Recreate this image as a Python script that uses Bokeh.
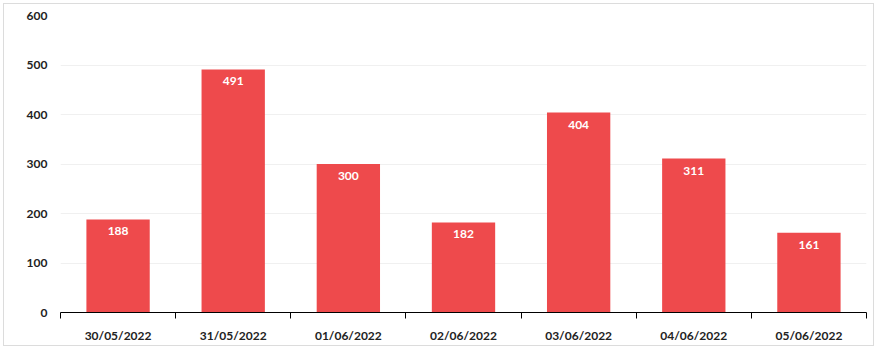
from bokeh.plotting import figure
from bokeh.models import Range1d, FixedTicker, ColumnDataSource, LabelSet
from bokeh.core.properties import value
from bokeh.embed import file_html
from bokeh.resources import INLINE

dates = ["30/05/2022", "31/05/2022", "01/06/2022", "02/06/2022",
         "03/06/2022", "04/06/2022", "05/06/2022"]
values = [188, 491, 300, 182, 404, 311, 161]
y_ticks = [0, 100, 200, 300, 400, 500, 600]

xs = [i + 0.5 for i in range(len(dates))]
src = ColumnDataSource(dict(x=xs, y=values, lbl=[str(v) for v in values]))

FONT = "Lato"

p = figure(width=871, height=343, output_backend="svg", toolbar_location=None,
           x_range=Range1d(0, len(dates)), y_range=Range1d(0, 600),
           min_border_left=56, min_border_right=9, min_border_top=11, min_border_bottom=35)
p.styles = {"margin-left": "3px", "margin-top": "3px", "border": "1px solid #dcdcdc"}
p.outline_line_color = None
p.background_fill_color = "white"
p.border_fill_color = "white"

p.vbar(x="x", top="y", width=0.55, bottom=0, source=src, color="#EE4A4C", line_color=None)

labels = LabelSet(x="x", y="y", text="lbl", source=src, text_align="center",
                  text_baseline="top", y_offset=-8, text_color="white",
                  text_font=value(FONT), text_font_style="bold", text_font_size="12px")
p.add_layout(labels)

p.xgrid.grid_line_color = None
p.ygrid.grid_line_color = "#f0f0f0"
p.ygrid.ticker = FixedTicker(ticks=y_ticks)

xa = p.xaxis[0]
xa.ticker = FixedTicker(ticks=xs, minor_ticks=list(range(len(dates) + 1)))
xa.major_label_overrides = {x: d for x, d in zip(xs, dates)}
xa.axis_line_color = "black"
xa.major_tick_line_color = None
xa.minor_tick_line_color = "black"
xa.minor_tick_out = 6
xa.minor_tick_in = 0
xa.major_label_text_font = FONT
xa.major_label_text_font_style = "bold"
xa.major_label_text_font_size = "12px"
xa.major_label_text_color = "#222222"
xa.major_label_standoff = 9

ya = p.yaxis[0]
ya.ticker = FixedTicker(ticks=y_ticks)
ya.axis_line_color = None
ya.major_tick_line_color = None
ya.minor_tick_line_color = None
ya.major_label_text_font = FONT
ya.major_label_text_font_style = "bold"
ya.major_label_text_font_size = "12px"
ya.major_label_text_color = "#222222"
ya.major_label_standoff = 7

open("out.html", "w").write(file_html(p, INLINE))
